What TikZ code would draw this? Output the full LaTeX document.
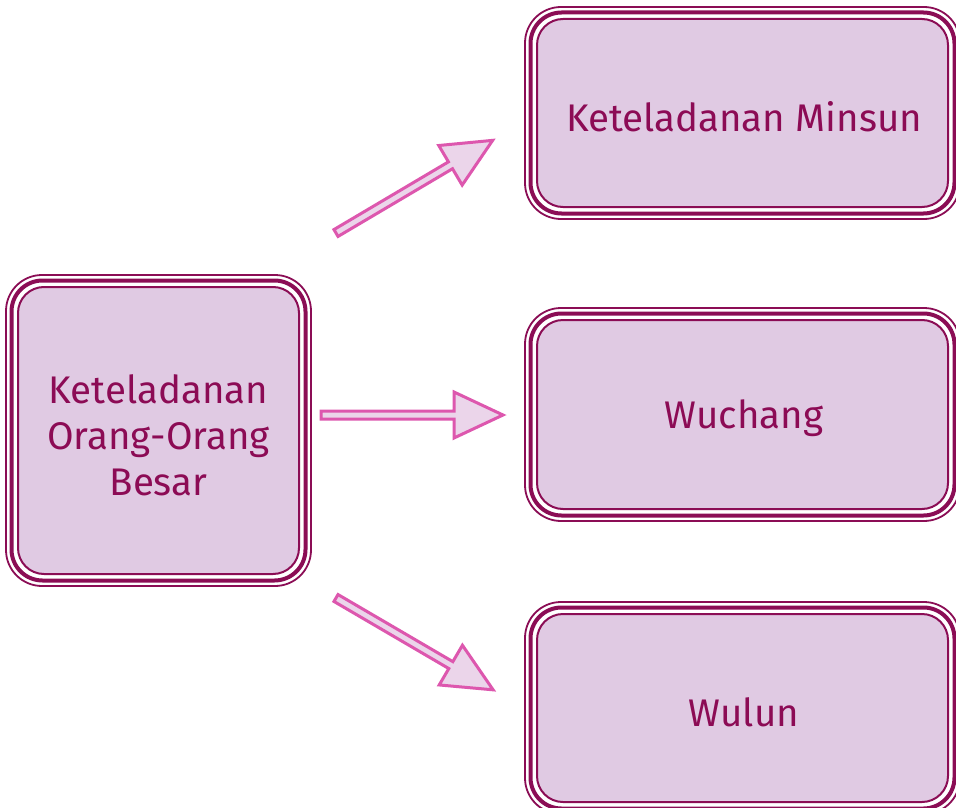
\documentclass[tikz,border=0pt]{standalone}
\usepackage{fontspec}
\setmainfont{Fira Sans}
\definecolor{boxline}{HTML}{8B0D55}
\definecolor{boxfill}{HTML}{E0CAE3}
\definecolor{txt}{HTML}{8C0B55}
\definecolor{arrline}{HTML}{DD57AE}
\definecolor{arrfill}{HTML}{EBD5EA}
\tikzset{
  inbox/.style={draw=boxline, line width=2pt, fill=boxfill, rounded corners=26pt,
    text=txt, align=center, inner sep=0pt, font=\fontsize{38.5}{46}\selectfont},
  thickring/.style={draw=boxline, line width=4pt, rounded corners=31pt},
  thinring/.style={draw=boxline, line width=1.8pt, rounded corners=36pt},
  arrowstyle/.style={draw=arrline, fill=arrfill, line width=3pt, line join=miter},
  fatarrow/.pic={\draw[arrowstyle] (0,-4) -- (133,-4) -- (133,-23) -- (182,0) -- (133,23) -- (133,4) -- (0,4) -- cycle;}
}
\newcommand{\ringsround}[1]{%
  \draw[thickring] ([shift={(-5.5,5.5)}]#1.south west) rectangle ([shift={(5.5,-5.5)}]#1.north east);
  \draw[thinring] ([shift={(-11,11)}]#1.south west) rectangle ([shift={(11,-11)}]#1.north east);
}
\begin{document}
\begin{tikzpicture}[x=1pt,y=-1pt]
\clip (0,0) rectangle (956,808);
\fill[white] (0,0) rectangle (956,808);
\node[inbox, minimum width=281pt, minimum height=287pt] (big) at (158.5,430.5) {};
\node[inbox, minimum width=411pt, minimum height=188pt] (a) at (742.5,113) {};
\node[inbox, minimum width=411pt, minimum height=189pt] (b) at (742.5,414.5) {};
\node[inbox, minimum width=411pt, minimum height=188pt] (c) at (742.5,708) {};
\node[inbox, draw=none, fill=none] (bigtxt) at (158.5,435) {Keteladanan\\Orang-Orang\\Besar};
\node[inbox, draw=none, fill=none] (atxt) at (744,117) {Keteladanan Minsun};
\node[inbox, draw=none, fill=none] (btxt) at (744,418) {Wuchang};
\node[inbox, draw=none, fill=none] (ctxt) at (744,712) {Wulun};
\ringsround{big}
\ringsround{a}
\ringsround{b}
\ringsround{c}
\coordinate (t1) at (336,233);
\coordinate (t2) at (321,415);
\coordinate (t3) at (336,598);
\pic[rotate=30.6] at (t1) {fatarrow};
\pic at (t2) {fatarrow};
\pic[rotate=-30.3] at (t3) {fatarrow};
\end{tikzpicture}
\end{document}
